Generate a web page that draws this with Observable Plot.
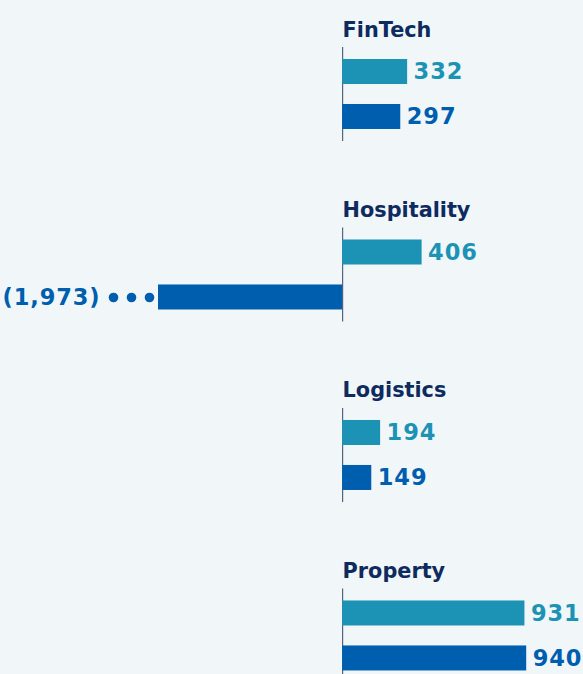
<!DOCTYPE html>
<html>
<head>
<meta charset="utf-8">
<script src="https://cdn.jsdelivr.net/npm/d3@7"></script>
<script src="https://cdn.jsdelivr.net/npm/@observablehq/plot@0.6"></script>
<style>
  html, body { margin: 0; padding: 0; background: #f1f6f9; }
  #chart svg { display: block; background: #f1f6f9; }
  g[font-size="22.5"] text { letter-spacing: 0.9px; }
</style>
</head>
<body>
<div id="chart"></div>
<script>
const categories = ["FinTech", "Hospitality", "Logistics", "Property"];
const seriesNames = ["Current", "Previous"];
const currentValues = [332, 406, 194, 931];
const previousValues = [297, -1973, 149, 940];
const seriesColors = ["#1c93b4", "#005eae"];

const rows = [];
categories.forEach((c, i) => {
  rows.push({category: c, series: seriesNames[0], value: currentValues[i]});
  rows.push({category: c, series: seriesNames[1], value: previousValues[i]});
});
const positives = rows.filter(d => d.value >= 0);
const negatives = rows.filter(d => d.value < 0);
const fmtLabel = v => v < 0 ? `(${d3.format(",")(-v)})` : d3.format(",")(v);

const font = "DejaVu Sans, sans-serif";

const chart = Plot.plot({
  width: 583,
  height: 674,
  margin: 0,
  style: {background: "#f1f6f9", fontFamily: font, overflow: "visible"},
  x: {domain: [-940, 1230], range: [158, 583], clamp: true, axis: null},
  fy: {domain: categories, range: [47, 682.5], paddingInner: 0.479, paddingOuter: 0, round: false, axis: null},
  y: {domain: seriesNames, range: [12, 82], paddingInner: 0.444, paddingOuter: 0, round: false, axis: null},
  color: {domain: seriesNames, range: seriesColors},
  marks: [
    Plot.ruleX(categories.map(c => ({category: c})), {x: () => 0, fy: "category", stroke: "#56657d", strokeWidth: 1.2}),
    Plot.barX(rows, {x1: () => 0, x2: "value", y: "series", fy: "category", fill: "series"}),
    Plot.text(positives, {
      x: "value", y: "series", fy: "category", fill: "series",
      text: d => fmtLabel(d.value), textAnchor: "start", dx: 6,
      fontSize: 22.5, fontWeight: "bold", fontFamily: font
    }),
    Plot.text(negatives, {
      x: "value", y: "series", fy: "category", fill: "series",
      text: d => fmtLabel(d.value), textAnchor: "end", dx: -58,
      fontSize: 22.5, fontWeight: "bold", fontFamily: font
    }),
    ...[-45, -27, -9].map(off => Plot.dot(negatives, {
      x: "value", y: "series", fy: "category", fill: "series",
      r: 4.8, dx: off
    })),
    Plot.text(categories.map(c => ({category: c})), {
      x: () => 0, fy: "category", text: "category",
      frameAnchor: "top", textAnchor: "start", lineAnchor: "bottom", dy: -11,
      fill: "#0d2b5e", fontSize: 20.8, fontWeight: "bold", fontFamily: font
    })
  ]
});
document.getElementById("chart").appendChild(chart);
</script>
</body>
</html>
